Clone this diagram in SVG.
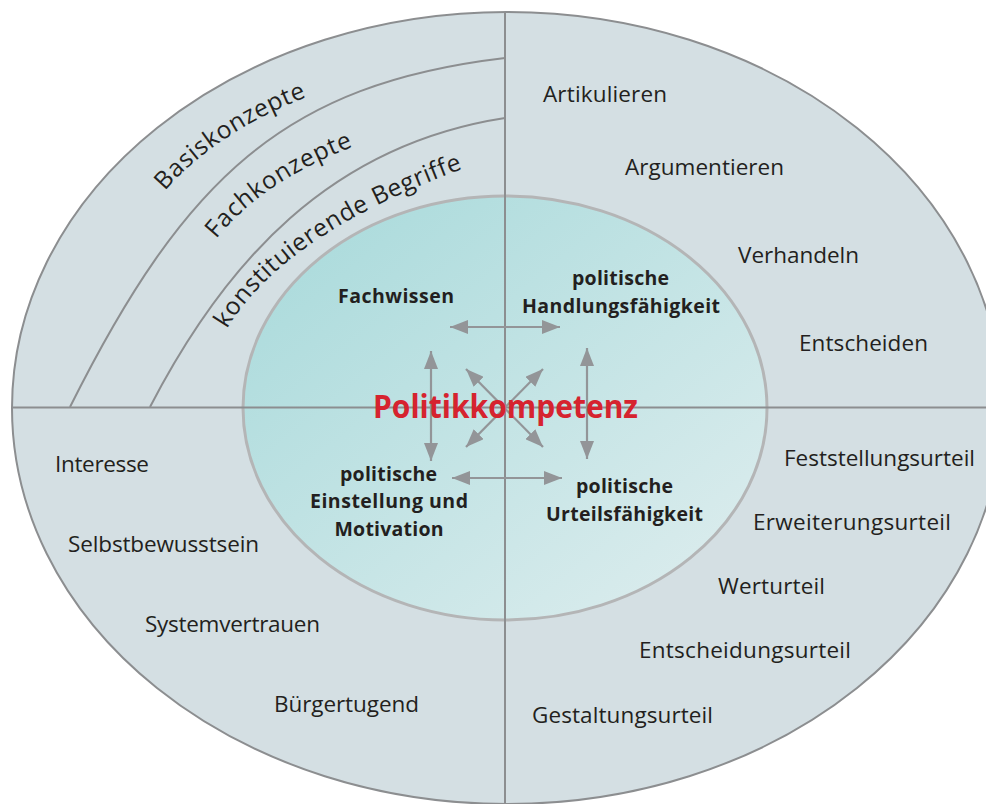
<svg xmlns="http://www.w3.org/2000/svg" width="986" height="804" viewBox="0 0 986 804">
<style>
.lbl{font-family:"Open Sans","Liberation Sans",sans-serif;font-size:22.5px;fill:#231f20}
.cv{font-family:"Open Sans","Liberation Sans",sans-serif;font-size:24.5px;fill:#231f20}
.b{font-family:"Open Sans","Liberation Sans",sans-serif;font-weight:700;font-size:19.5px;fill:#231f20;text-anchor:middle}
.arc{fill:none;stroke:#8c8e90;stroke-width:2}
.ax{stroke:#8c8e90;stroke-width:2}
.arrow{stroke:#939598;stroke-width:2.2;fill:none;marker-start:url(#ah);marker-end:url(#ah)}
</style>
<defs>
<linearGradient id="core" x1="0" y1="0" x2="1" y2="1">
<stop offset="0" stop-color="#a6d9da"/>
<stop offset="1" stop-color="#e0eeef"/>
</linearGradient>
<marker id="ah" viewBox="0 0 18 14" refX="18" refY="7" markerWidth="18" markerHeight="14" markerUnits="userSpaceOnUse" orient="auto-start-reverse">
<path d="M0,0 L18,7 L0,14 z" fill="#939598"/>
</marker>
<path id="pBasis" d="M165,191 Q215,133 307,97 L360,78"/>
<path id="pFach" d="M216,239 Q262,182 352,147 L400,130"/>
<path id="pKonst" d="M227,329 Q284,234 465,168 L515,150"/>
</defs>

<g id="outer">
<ellipse cx="507" cy="408" rx="495" ry="396" fill="#d4dfe3" stroke="#8c8e90" stroke-width="2"/>
</g>
<g id="core-ellipse">
<ellipse cx="505" cy="408" rx="262" ry="212" fill="url(#core)" stroke="#b4b5b6" stroke-width="3"/>
</g>
<g id="dividers">
<path class="arc" d="M70,407 C185,177 285,84 505,58"/>
<path class="arc" d="M150,407 C225,262 330,145 505,118"/>
<line class="ax" x1="12" y1="407.5" x2="986" y2="407.5"/>
<line class="ax" x1="505" y1="12" x2="505" y2="804"/>
</g>

<g id="connectors">
<path class="arrow" d="M450,327 L560,327"/>
<path class="arrow" d="M452,478 L562,478"/>
<path class="arrow" d="M431,351 L431,461"/>
<path class="arrow" d="M587,348 L587,459"/>
<path class="arrow" d="M466,369 L543,447"/>
<path class="arrow" d="M543,369 L466,447"/>
</g>

<g id="wissen-layers">
<text class="cv" letter-spacing="0.6"><textPath href="#pBasis">Basiskonzepte</textPath></text>
<text class="cv" letter-spacing="0.8"><textPath href="#pFach">Fachkonzepte</textPath></text>
<text class="cv" letter-spacing="0.6"><textPath href="#pKonst">konstituierende Begriffe</textPath></text>
</g>

<g id="handeln">
<text class="lbl" x="543" y="102" textLength="124">Artikulieren</text>
<text class="lbl" x="625" y="175" textLength="159">Argumentieren</text>
<text class="lbl" x="738" y="263" textLength="121">Verhandeln</text>
<text class="lbl" x="799" y="351" textLength="129">Entscheiden</text>
</g>

<g id="einstellung">
<text class="lbl" x="55" y="472" textLength="94">Interesse</text>
<text class="lbl" x="68" y="552" textLength="191">Selbstbewusstsein</text>
<text class="lbl" x="145" y="632" textLength="175">Systemvertrauen</text>
<text class="lbl" x="274" y="712" textLength="145">Bürgertugend</text>
</g>

<g id="urteil">
<text class="lbl" x="784" y="466" textLength="191">Feststellungsurteil</text>
<text class="lbl" x="753" y="530" textLength="198">Erweiterungsurteil</text>
<text class="lbl" x="718" y="594" textLength="107">Werturteil</text>
<text class="lbl" x="639" y="658" textLength="212">Entscheidungsurteil</text>
<text class="lbl" x="532" y="723" textLength="181">Gestaltungsurteil</text>
</g>

<g id="fachwissen">
<text class="b" x="396" y="303" textLength="116">Fachwissen</text>
</g>
<g id="handlungsfaehigkeit">
<text class="b" x="620.5" y="285" textLength="97">politische</text>
<text class="b" x="621" y="313" textLength="198">Handlungsfähigkeit</text>
</g>
<g id="einstellung-motivation">
<text class="b" x="388.5" y="481" textLength="97">politische</text>
<text class="b" x="389" y="508" textLength="158">Einstellung und</text>
<text class="b" x="389" y="536" textLength="109">Motivation</text>
</g>
<g id="urteilsfaehigkeit">
<text class="b" x="624.5" y="493" textLength="97">politische</text>
<text class="b" x="624.5" y="521" textLength="157">Urteilsfähigkeit</text>
</g>
<g id="politikkompetenz">
<text x="373" y="418" textLength="265" lengthAdjust="spacingAndGlyphs" style="font-family:'Open Sans','Liberation Sans',sans-serif;font-weight:700;font-size:32px;fill:#d6232f">Politikkompetenz</text>
</g>
</svg>
